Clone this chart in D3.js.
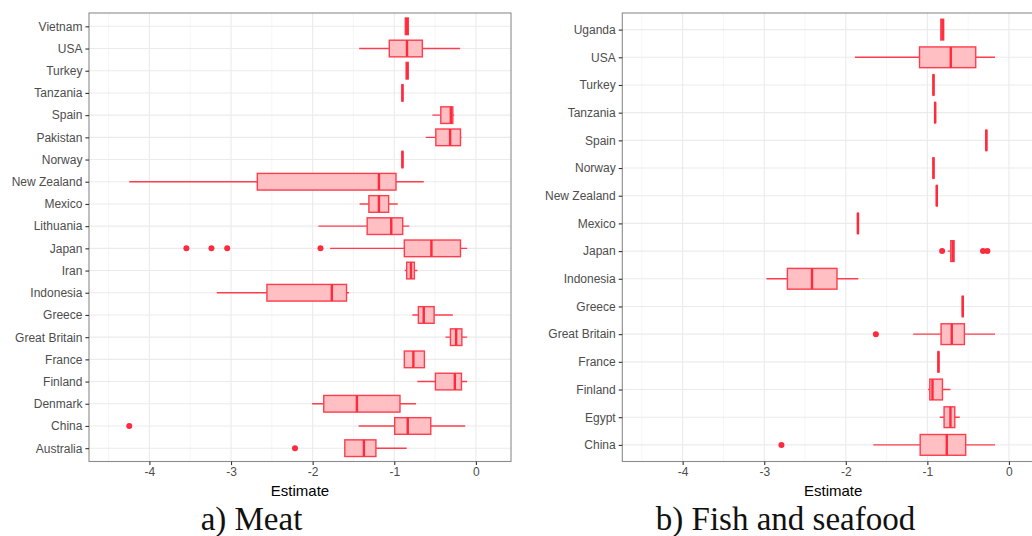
<!DOCTYPE html>
<html>
<head>
<meta charset="utf-8">
<script src="https://cdn.jsdelivr.net/npm/d3@7"></script>
<style>
  body { margin: 0; background: #fff; }
  svg { display: block; }
</style>
</head>
<body>
<div class="svg-container"></div>
<script>
// ---- data: a) Meat (top to bottom) ----
const meatCountries = ["Vietnam","USA","Turkey","Tanzania","Spain","Pakistan","Norway","New Zealand","Mexico",
  "Lithuania","Japan","Iran","Indonesia","Greece","Great Britain","France","Finland","Denmark","China","Australia"];
const meatLow    = [-0.865,-1.43,-0.855,-0.905,-0.533,-0.614,-0.905,-4.247,-1.425,-1.929,-1.786,-0.872,-3.174,-0.779,-0.373,-0.877,-0.717,-2.007,-1.437,-1.606];
const meatQ1     = [-0.865,-1.061,-0.855,-0.905,-0.43,-0.491,-0.905,-2.678,-1.311,-1.332,-0.877,-0.848,-2.56,-0.705,-0.312,-0.877,-0.496,-1.864,-0.995,-1.606];
const meatMedian = [-0.845,-0.844,-0.84,-0.9,-0.307,-0.316,-0.9,-1.188,-1.188,-1.037,-0.545,-0.795,-1.765,-0.639,-0.242,-0.766,-0.258,-1.458,-0.835,-1.372];
const meatQ3     = [-0.828,-0.656,-0.83,-0.895,-0.283,-0.189,-0.895,-0.979,-1.069,-0.897,-0.189,-0.754,-1.585,-0.512,-0.172,-0.631,-0.177,-0.93,-0.553,-1.225];
const meatHigh   = [-0.828,-0.193,-0.83,-0.895,-0.267,-0.177,-0.895,-0.639,-0.958,-0.816,-0.107,-0.717,-1.553,-0.283,-0.107,-0.631,-0.107,-0.733,-0.131,-0.848];
const meatOutliers = [
  {country: "Japan", value: -3.547}, {country: "Japan", value: -3.24}, {country: "Japan", value: -3.047},
  {country: "Japan", value: -1.904}, {country: "China", value: -4.247}, {country: "Australia", value: -2.216}
];

// ---- data: b) Fish and seafood ----
const fishCountries = ["Uganda","USA","Turkey","Tanzania","Spain","Norway","New Zealand","Mexico","Japan",
  "Indonesia","Greece","Great Britain","France","Finland","Egypt","China"];
const fishLow    = [-0.84,-1.888,-0.93,-0.91,-0.282,-0.93,-0.889,-1.856,-0.75,-2.972,-0.571,-1.174,-0.869,-0.991,-0.848,-1.663];
const fishQ1     = [-0.835,-1.096,-0.93,-0.91,-0.282,-0.93,-0.889,-1.856,-0.713,-2.716,-0.571,-0.832,-0.869,-0.97,-0.795,-1.088];
const fishMedian = [-0.815,-0.713,-0.925,-0.905,-0.277,-0.925,-0.884,-1.851,-0.689,-2.414,-0.566,-0.701,-0.864,-0.937,-0.717,-0.762];
const fishQ3     = [-0.8,-0.407,-0.92,-0.9,-0.272,-0.92,-0.879,-1.846,-0.672,-2.108,-0.561,-0.546,-0.859,-0.815,-0.664,-0.53];
const fishHigh   = [-0.795,-0.171,-0.92,-0.9,-0.272,-0.92,-0.879,-1.846,-0.672,-1.847,-0.561,-0.171,-0.859,-0.717,-0.603,-0.171];
const fishOutliers = [
  {country: "Japan", value: -0.819}, {country: "Japan", value: -0.318}, {country: "Japan", value: -0.264},
  {country: "Great Britain", value: -1.631}, {country: "China", value: -2.789}
];

const xTicks = [-4, -3, -2, -1, 0];
const xMinor = [-4.5, -3.5, -2.5, -1.5, -0.5];
const xDomain = [-4.74, 0.43];

const width = 1032, height = 536;
const svg = d3.select(".svg-container").append("svg")
  .attr("width", width).attr("height", height);

const boxStroke = "#ff3d4d";
const boxFill = "#ffbfc3";
const pointColor = "#ff2a3c";

function drawPanel(cfg) {
  const {left, right, top, bottom, countries, low, q1, median, q3, high, outliers} = cfg;
  const g = svg.append("g");

  const xScale = d3.scaleLinear().domain(xDomain).range([left, right]);
  const yScale = d3.scalePoint().domain(countries).range([top, bottom]).padding(0.6);
  const boxH = yScale.step() * 0.75;

  // clip so panel can run past the window edge
  const clipId = "clip" + Math.round(left);
  g.append("clipPath").attr("id", clipId)
    .append("rect").attr("x", left).attr("y", top).attr("width", right - left).attr("height", bottom - top);
  const panel = g.append("g").attr("clip-path", `url(#${clipId})`);

  // grid
  panel.selectAll(".minor").data(xMinor).join("line")
    .attr("x1", d => xScale(d)).attr("x2", d => xScale(d))
    .attr("y1", top).attr("y2", bottom)
    .style("stroke", "#f0f0f0").style("stroke-width", 0.6);
  panel.selectAll(".major").data(xTicks).join("line")
    .attr("x1", d => xScale(d)).attr("x2", d => xScale(d))
    .attr("y1", top).attr("y2", bottom)
    .style("stroke", "#ebebeb").style("stroke-width", 1.1);
  panel.selectAll(".hgrid").data(countries).join("line")
    .attr("x1", left).attr("x2", right)
    .attr("y1", d => yScale(d)).attr("y2", d => yScale(d))
    .style("stroke", "#ebebeb").style("stroke-width", 1.1);

  const rows = countries.map((c, i) => ({c, lo: low[i], q1: q1[i], med: median[i], q3: q3[i], hi: high[i]}));

  // whiskers
  panel.selectAll(".wl").data(rows).join("line")
    .attr("x1", d => xScale(d.lo)).attr("x2", d => xScale(d.q1))
    .attr("y1", d => yScale(d.c)).attr("y2", d => yScale(d.c))
    .style("stroke", boxStroke).style("stroke-width", 1.4);
  panel.selectAll(".wh").data(rows).join("line")
    .attr("x1", d => xScale(d.q3)).attr("x2", d => xScale(d.hi))
    .attr("y1", d => yScale(d.c)).attr("y2", d => yScale(d.c))
    .style("stroke", boxStroke).style("stroke-width", 1.4);

  // boxes
  panel.selectAll(".box").data(rows).join("rect")
    .attr("x", d => xScale(d.q1)).attr("width", d => xScale(d.q3) - xScale(d.q1))
    .attr("y", d => yScale(d.c) - boxH / 2).attr("height", boxH)
    .style("fill", boxFill).style("stroke", boxStroke).style("stroke-width", 1.4);

  // medians
  panel.selectAll(".med").data(rows).join("line")
    .attr("x1", d => xScale(d.med)).attr("x2", d => xScale(d.med))
    .attr("y1", d => yScale(d.c) - boxH / 2).attr("y2", d => yScale(d.c) + boxH / 2)
    .style("stroke", "#ff2a3c").style("stroke-width", 2.4);

  // outliers
  panel.selectAll(".out").data(outliers).join("circle")
    .attr("cx", d => xScale(d.value)).attr("cy", d => yScale(d.country))
    .attr("r", 3).style("fill", pointColor);

  // border
  g.append("rect").attr("x", left).attr("y", top)
    .attr("width", right - left).attr("height", bottom - top)
    .style("fill", "none").style("stroke", "#8c8c8c").style("stroke-width", 1.1);

  // y axis
  const yAxis = d3.axisLeft(yScale).tickSize(3.6).tickPadding(3);
  const ya = g.append("g").attr("transform", `translate(${left},0)`).call(yAxis);
  ya.select(".domain").remove();
  ya.selectAll(".tick line").style("stroke", "#333").style("stroke-width", 1.1);
  ya.selectAll("text").style("font-family", "'Liberation Sans', Arial, sans-serif")
    .style("font-size", "12px").style("fill", "#4d4d4d");

  // x axis (plain hyphen minus, as in the original)
  const xAxis = d3.axisBottom(xScale).tickValues(xTicks).tickSize(3.6).tickPadding(2.5)
    .tickFormat(d => String(d));
  const xa = g.append("g").attr("transform", `translate(0,${bottom})`).call(xAxis);
  xa.select(".domain").remove();
  xa.selectAll(".tick line").style("stroke", "#333").style("stroke-width", 1.1);
  xa.selectAll("text").style("font-family", "'Liberation Sans', Arial, sans-serif")
    .style("font-size", "12px").style("fill", "#4d4d4d");

  svg.append("text")
    .attr("x", (left + right) / 2).attr("y", bottom + 34)
    .style("text-anchor", "middle")
    .style("font-family", "'Liberation Sans', Arial, sans-serif")
    .style("font-size", "15px").style("fill", "#000")
    .text("Estimate");

  svg.append("text")
    .attr("x", cfg.captionX).attr("y", 530)
    .style("text-anchor", "middle")
    .style("font-family", "'Liberation Serif', 'DejaVu Serif', serif")
    .style("font-size", "33px").style("fill", "#111")
    .text(cfg.caption);
}

drawPanel({
  left: 89, right: 511, top: 13, bottom: 461.5,
  countries: meatCountries, low: meatLow, q1: meatQ1, median: meatMedian, q3: meatQ3, high: meatHigh,
  outliers: meatOutliers, caption: "a) Meat", captionX: 251.5
});

drawPanel({
  left: 622.3, right: 1044, top: 13, bottom: 461.5,
  countries: fishCountries, low: fishLow, q1: fishQ1, median: fishMedian, q3: fishQ3, high: fishHigh,
  outliers: fishOutliers, caption: "b) Fish and seafood", captionX: 785.5
});
</script>
</body>
</html>
